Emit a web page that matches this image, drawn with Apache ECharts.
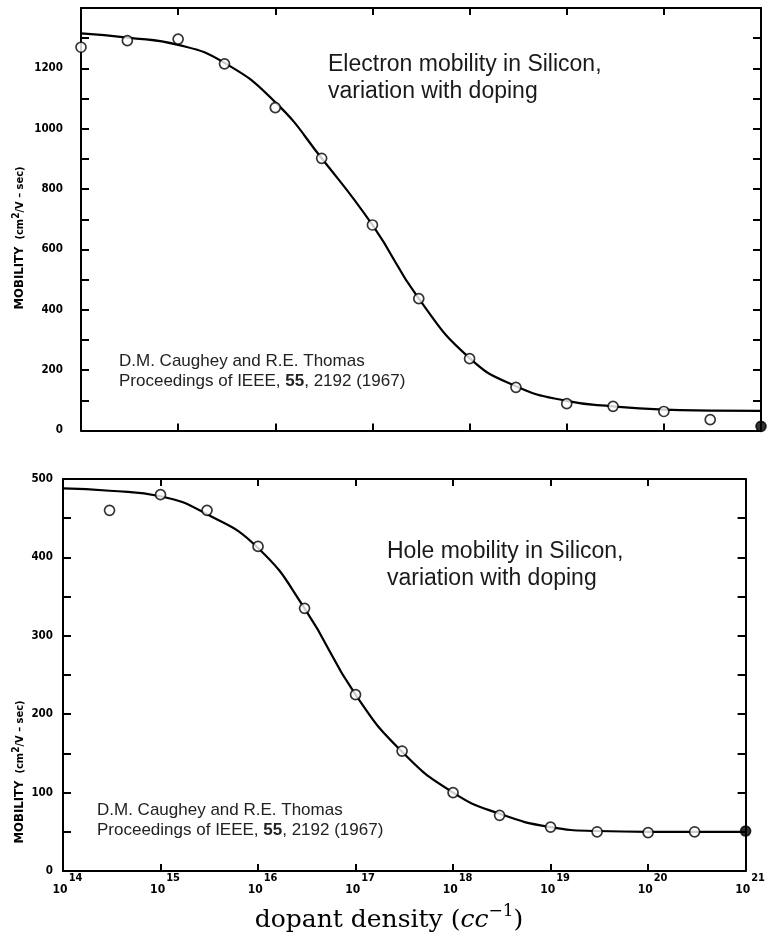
<!DOCTYPE html>
<html><head><meta charset="utf-8">
<script src="https://cdn.jsdelivr.net/npm/echarts@6/dist/echarts.min.js"></script>
<style>html,body{margin:0;padding:0;background:#fff}#c{width:768px;height:942px}</style>
</head><body><div id="c"></div><script>
// ---- data ----
const electronDensity = [1e14,3e14,1e15,3e15,1e16,3e16,1e17,3e17,1e18,3e18,1e19,3e19,1e20,3e20,1e21];
const electronMobility = [1270,1292,1297,1215,1070,902,681,437,238,143,89,80,63,36,14];
const electronFitDensity = [1e14,3e14,1e15,3e15,1e16,3e16,1e17,3e17,1e18,3e18,1e19,3e19,1e20,3e20,1e21];
const electronFitMobility = [1316,1302,1278,1218,1088,902,681,437,240,147,98,80,69,66,65];

const holeDensity = [3e14,1e15,3e15,1e16,3e16,1e17,3e17,1e18,3e18,1e19,3e19,1e20,3e20,1e21];
const holeMobility = [460,480,460,414,335,225,153,100,71,56,50,49,50,51];
const holeFitDensity = [1e14,3e14,1e15,3e15,1e16,3e16,1e17,3e17,1e18,3e18,1e19,3e19,1e20,3e20,1e21];
const holeFitMobility = [488,485,478,455,412,335,225,152,100,73,56,51,50,50,50];

const xTickExponents = ['14','15','16','17','18','19','20','21'];
const yTopLabels = ['0','200','400','600','800','1000','1200'];
const yBottomLabels = ['0','100','200','300','400','500'];

// ---- chart ----
const narrow = "'Liberation Sans Narrow','DejaVu Sans Condensed','Roboto Condensed',sans-serif";
const chart = echarts.init(document.getElementById('c'), null, {renderer:'canvas'});

function pairs(xs, ys){ return xs.map((x,i)=>[x, ys[i]]); }
function pointItems(xs, ys){
  return xs.map((x,i)=>{
    const it = {value:[x, ys[i]]};
    if (i === xs.length-1) it.itemStyle = {color:'#000'};
    return it;
  });
}

function xAx(g, pos, labels){
  return {
    type:'log', logBase:10, gridIndex:g, position:pos, min:1e14, max:1e21, interval:1,
    axisLine:{show:true, onZero:false, lineStyle:{color:'#000', width:2}},
    axisTick:{show:true, inside:true, length:7, lineStyle:{color:'#000', width:2}},
    axisLabel: labels ? {
      show:true, margin:2, padding:[0,0,0,9],
      formatter:(v)=>{
        const e = String(Math.round(Math.log10(v)));
        const i = xTickExponents.indexOf(e);
        return i < 0 ? '' : '{a|10}{b|' + xTickExponents[i] + '}';
      },
      rich:{
        a:{fontFamily:narrow, fontWeight:'bold', fontSize:12, color:'#000'},
        b:{fontFamily:narrow, fontWeight:'bold', fontSize:11, color:'#000', padding:[0,0,22,1]}
      }
    } : {show:false},
    splitLine:{show:false}, minorTick:{show:false}, minorSplitLine:{show:false}
  };
}
function yAx(g, pos, max, step, labels, margin){
  return {
    type:'value', gridIndex:g, position:pos, min:0, max:max, interval:step,
    axisLine:{show:true, onZero:false, lineStyle:{color:'#000', width:2}},
    axisTick:{show:true, inside:true, length:8, lineStyle:{color:'#000', width:2}},
    axisLabel: labels ? {
      show:true, margin:margin, fontFamily:narrow, fontWeight:'bold', fontSize:11.5, color:'#000',
      formatter:(v)=> labels.includes(String(v)) ? String(v) : ''
    } : {show:false},
    splitLine:{show:false}
  };
}

const yName = {
  text:'{m|MOBILITY}  (cm{s|2}/V – sec)', fill:'#000', align:'center', verticalAlign:'middle',
  font:"bold 11px 'Liberation Sans Narrow','DejaVu Sans Condensed',sans-serif",
  rich:{m:{fontSize:13, fontWeight:'bold', fontFamily:narrow},
        s:{fontSize:10, fontWeight:'bold', fontFamily:narrow, padding:[0,0,8,0]}}
};

const option = {
  animation:false,
  backgroundColor:'#fff',
  grid:[
    {left:81, top:8, width:680, height:422.5},
    {left:63, top:479, width:690, height:392}
  ],
  xAxis:[ xAx(0,'bottom',false), xAx(0,'top',false), xAx(1,'bottom',true), xAx(1,'top',false) ],
  yAxis:[ yAx(0,'left',1400,100,yTopLabels,18), yAx(0,'right',1400,100,null,0),
          yAx(1,'left',500,50,yBottomLabels,10), yAx(1,'right',500,50,null,0) ],
  series:[
    {type:'line', xAxisIndex:0, yAxisIndex:0, data:pairs(electronFitDensity, electronFitMobility),
     smooth:0.5, showSymbol:false, lineStyle:{color:'#000', width:2.2}, z:2},
    {type:'scatter', xAxisIndex:0, yAxisIndex:0, data:pointItems(electronDensity, electronMobility),
     symbol:'circle', symbolSize:10, itemStyle:{color:'#fff', borderColor:'#000', borderWidth:1.7}, z:3},
    {type:'line', xAxisIndex:2, yAxisIndex:2, data:pairs(holeFitDensity, holeFitMobility),
     smooth:0.5, showSymbol:false, lineStyle:{color:'#000', width:2.2}, z:2},
    {type:'scatter', xAxisIndex:2, yAxisIndex:2, data:pointItems(holeDensity, holeMobility),
     symbol:'circle', symbolSize:10, itemStyle:{color:'#fff', borderColor:'#000', borderWidth:1.7}, z:3}
  ],
  graphic:[
    {type:'text', x:20, y:238, rotation:Math.PI/2, style:yName},
    {type:'text', x:20, y:772, rotation:Math.PI/2, style:yName},
    {type:'text', x:328, y:51, style:{
      text:'Electron mobility in Silicon,\nvariation with doping', fill:'#1a1a1a',
      font:"23px 'Liberation Sans',Arial,sans-serif", lineHeight:27, verticalAlign:'top'}},
    {type:'text', x:387, y:538.5, style:{
      text:'Hole mobility in Silicon,\nvariation with doping', fill:'#1a1a1a',
      font:"23px 'Liberation Sans',Arial,sans-serif", lineHeight:27, verticalAlign:'top'}},
    {type:'text', x:119, y:351, style:{
      text:'D.M. Caughey and R.E. Thomas\nProceedings of IEEE, {b|55}, 2192 (1967)', fill:'#222',
      font:"17px 'Liberation Sans',Arial,sans-serif", lineHeight:20, verticalAlign:'top',
      rich:{b:{fontWeight:'bold', fontSize:17, fontFamily:"'Liberation Sans',Arial,sans-serif", lineHeight:20}}}},
    {type:'text', x:97, y:800.5, style:{
      text:'D.M. Caughey and R.E. Thomas\nProceedings of IEEE, {b|55}, 2192 (1967)', fill:'#222',
      font:"17px 'Liberation Sans',Arial,sans-serif", lineHeight:20, verticalAlign:'top',
      rich:{b:{fontWeight:'bold', fontSize:17, fontFamily:"'Liberation Sans',Arial,sans-serif", lineHeight:20}}}},
    {type:'text', x:389, y:920, style:{
      text:'dopant density ({i|cc}{s|−1})', fill:'#000', align:'center', verticalAlign:'middle',
      font:"25px 'DejaVu Serif',serif",
      rich:{i:{fontStyle:'italic', fontSize:25, fontFamily:"'DejaVu Serif',serif"},
            s:{fontSize:17, fontFamily:"'DejaVu Serif',serif", padding:[0,0,16,0]}}}}
  ]
};
chart.setOption(option);
</script></body></html>
